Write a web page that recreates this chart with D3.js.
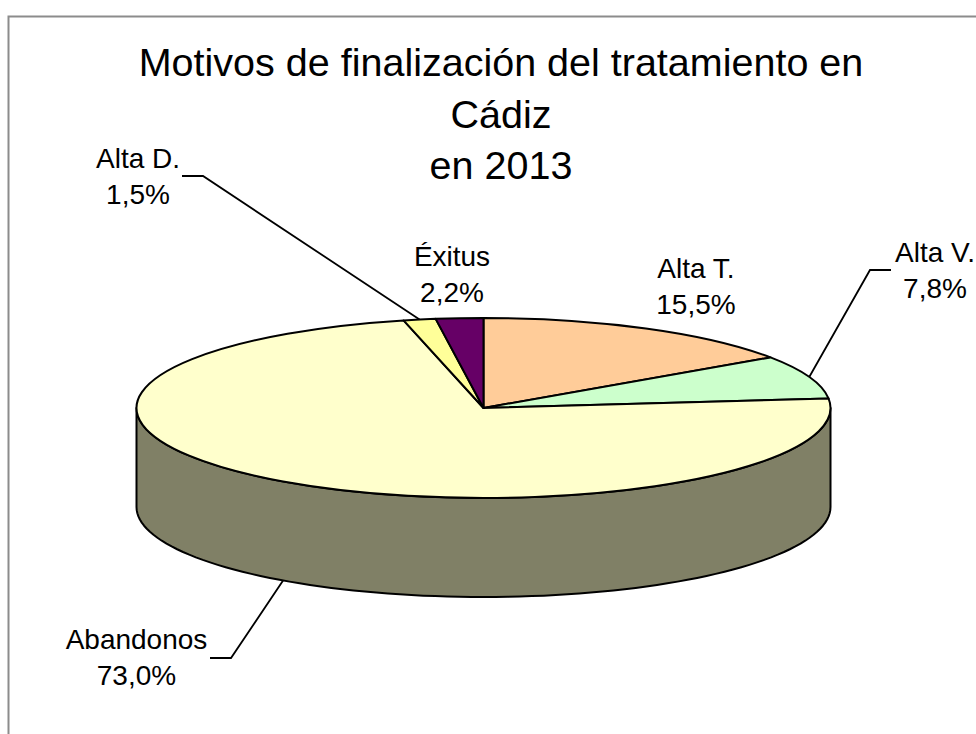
<!DOCTYPE html>
<html lang="es">
<head>
<meta charset="utf-8">
<script src="https://cdn.jsdelivr.net/npm/d3@7"></script>
<style>
html,body{margin:0;padding:0;background:#fff}
svg{display:block}
text{font-family:"Liberation Sans",Arial,sans-serif;fill:#000}
.sl{vector-effect:non-scaling-stroke}
</style>
</head>
<body>
<svg id="c" width="976" height="734"></svg>
<script>
const titleLines = ["Motivos de finalización del tratamiento en", "Cádiz", "en 2013"];
const categories = ["Alta T.", "Alta V.", "Abandonos", "Alta D.", "Éxitus"];
const values = [15.5, 7.8, 73.0, 1.5, 2.2];
const valueLabels = ["15,5%", "7,8%", "73,0%", "1,5%", "2,2%"];
const colors = ["#FFCC99", "#CCFFCC", "#FFFFCC", "#FFFF99", "#660066"];
const wallColor = "#808066";

const W = 976, H = 734;
const cx = 483.5, cy = 408, rx = 347, ry = 90, depth = 99;
const labelPos = [[696, 278], [935, 262], [136.5, 649], [138, 168], [452, 266]];
const elbows = [null, [[870, 270], [891, 270]], [[231, 658], [210, 658]], [[203, 176], [182, 176]], null];

const svg = d3.select("#c");
svg.append("rect").attr("width", W).attr("height", H).attr("fill", "#fff");
svg.append("path").attr("d", `M8.5,${H}V16.5H${W}`).attr("fill", "none").attr("stroke", "#8c8c8c").attr("stroke-width", 2);

// title
const title = svg.append("text").attr("text-anchor", "middle").attr("font-size", 39.5);
titleLines.forEach((t, i) => title.append("tspan").attr("x", 501).attr("y", 76 + i * 51.5).text(t));

const slices = d3.pie().sort(null).value(d => d)(values);
const pt = (a, dy = 0) => [cx + rx * Math.sin(a), cy - ry * Math.cos(a) + dy];

// side wall: visible part of the rim (angles pi/2 .. 3pi/2), drawn through d3.line
const rim = d3.range(0, 181, 2).map(d => Math.PI / 2 + d * Math.PI / 180);
const line = d3.line();
const wallPts = [...rim.map(a => pt(a, depth)), ...rim.slice().reverse().map(a => pt(a))];
svg.append("path").attr("d", line(wallPts) + "Z")
  .attr("fill", wallColor).attr("stroke", "#000").attr("stroke-width", 2).attr("stroke-linejoin", "round");

// top face
const arc = d3.arc().innerRadius(0).outerRadius(rx);
const face = svg.append("g").attr("transform", `translate(${cx},${cy}) scale(1,${ry / rx})`);
face.selectAll("path").data(slices).join("path")
  .attr("class", "sl").attr("d", arc)
  .attr("fill", (d, i) => colors[i])
  .attr("stroke", "#000").attr("stroke-width", 2).attr("stroke-linejoin", "round");

// leader lines
slices.forEach((s, i) => {
  if (!elbows[i]) return;
  const mid = (s.startAngle + s.endAngle) / 2;
  const front = Math.cos(mid) < -0.5;
  const start = pt(mid, front ? depth : 0);
  svg.append("path").attr("d", line([start, ...elbows[i]]))
    .attr("fill", "none").attr("stroke", "#000").attr("stroke-width", 1.8);
});

// labels
categories.forEach((c, i) => {
  const t = svg.append("text").attr("text-anchor", "middle").attr("font-size", 28);
  t.append("tspan").attr("x", labelPos[i][0]).attr("y", labelPos[i][1]).text(c);
  t.append("tspan").attr("x", labelPos[i][0]).attr("y", labelPos[i][1] + 36).text(valueLabels[i]);
});
</script>
</body>
</html>
